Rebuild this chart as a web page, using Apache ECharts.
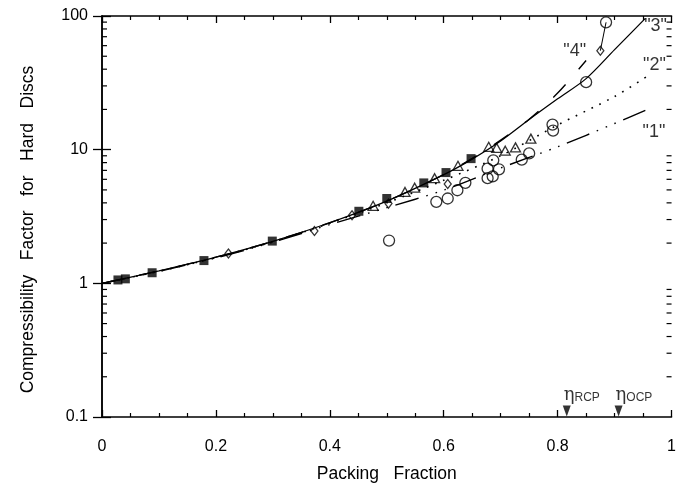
<!DOCTYPE html>
<html>
<head>
<meta charset="utf-8">
<script src="https://cdn.jsdelivr.net/npm/echarts@6/dist/echarts.min.js"></script>
<style>
html, body { margin: 0; padding: 0; background: #fff; }
#chart { width: 679px; height: 489px; }
</style>
</head>
<body>
<div id="chart"></div>
<script>
'use strict';

// simulation points (packing fraction, Z)
var squares = [[0.028, 1.06], [0.041, 1.08], [0.088, 1.20], [0.179, 1.48], [0.299, 2.07],
  [0.451, 3.46], [0.50, 4.31], [0.565, 5.64], [0.604, 6.74], [0.648, 8.57]];
var triangles = [[0.476, 3.80], [0.532, 4.83], [0.549, 5.19], [0.584, 6.12], [0.625, 7.57],
  [0.679, 10.5], [0.693, 10.3], [0.708, 9.83], [0.726, 10.4], [0.753, 12.1]];
var diamonds = [[0.222, 1.67], [0.373, 2.46], [0.439, 3.23], [0.503, 3.95], [0.607, 5.54], [0.875, 55]];
var circles = [[0.504, 2.09], [0.587, 4.07], [0.607, 4.31], [0.624, 4.97], [0.638, 5.65],
  [0.677, 6.12], [0.677, 7.21], [0.687, 8.32], [0.686, 6.31], [0.697, 7.13], [0.737, 8.42],
  [0.750, 9.38], [0.791, 15.4], [0.792, 13.9], [0.850, 32.0], [0.885, 89.7]];
var leader = [[0.885, 89.7], [0.875, 55]];

// equations of state "1".."4"
var curve1 = [[0, 1], [0.1, 1.23], [0.2, 1.55], [0.3, 2.03], [0.4, 2.75], [0.5, 3.68],
  [0.6, 4.98], [0.7, 7.3], [0.8, 10.5], [0.9, 15.7], [0.954, 19.7]];
var curve2 = [[0, 1], [0.1, 1.23], [0.2, 1.56], [0.3, 2.05], [0.4, 2.82], [0.5, 4.0],
  [0.6, 5.9], [0.7, 9.0], [0.8, 15.3], [0.9, 25], [0.96, 36]];
var curve3 = [[0, 1], [0.1, 1.24], [0.2, 1.57], [0.3, 2.06], [0.4, 2.84], [0.5, 4.12],
  [0.6, 6.5], [0.65, 8.5], [0.7, 11.6], [0.75, 16.8], [0.8, 24], [0.85, 34], [0.9, 56], [0.954, 96]];
var curve4 = [[0, 1], [0.1, 1.24], [0.2, 1.57], [0.3, 2.06], [0.4, 2.84], [0.5, 4.12],
  [0.6, 6.5], [0.65, 8.6], [0.7, 11.8], [0.75, 16.9], [0.8, 26.5], [0.85, 46.5]];

var curveLabels = [
  { name: '"1"', value: [0.969, 13.6] },
  { name: '"2"', value: [0.970, 43.1] },
  { name: '"3"', value: [0.972, 84] },
  { name: '"4"', value: [0.830, 54.8] }
];
var packings = [
  { name: 'RCP', value: [0.816, 0.1] },
  { name: 'OCP', value: [0.907, 0.1] }
];

var yMinor = [0.2, 0.3, 0.4, 0.5, 0.6, 0.7, 0.8, 0.9, 2, 3, 4, 5, 6, 7, 8, 9,
  20, 30, 40, 50, 60, 70, 80, 90];

var font = '"Liberation Sans", Arial, Helvetica, sans-serif';
var ink = '#000';

function xAxisOf(pos, show) {
  return {
    type: 'value', position: pos, min: 0, max: 1, interval: 0.2,
    axisLine: { show: true, lineStyle: { color: ink, width: 1.5 } },
    axisTick: { show: true, inside: true, length: 7, lineStyle: { color: ink, width: 1.3 } },
    minorTick: { show: true, splitNumber: 4, length: 4, lineStyle: { color: ink, width: 1.2 } },
    splitLine: { show: false },
    axisLabel: { show: show, margin: 22, color: ink, fontSize: 16, fontFamily: font },
    name: show ? 'Packing   Fraction' : '',
    nameLocation: 'middle', nameGap: 48,
    nameTextStyle: { color: ink, fontSize: 17.5, fontFamily: font }
  };
}

function yAxisOf(pos, show) {
  return {
    type: 'log', logBase: 10, position: pos, min: 0.1, max: 100,
    axisLine: { show: true, lineStyle: { color: ink, width: 1.5 } },
    axisTick: { show: true, inside: true, length: 9, lineStyle: { color: ink, width: 1.3 } },
    splitLine: { show: false },
    axisLabel: { show: show, margin: 14, color: ink, fontSize: 16, fontFamily: font },
    name: show ? 'Compressibility   Factor   for   Hard   Discs' : '',
    nameLocation: 'middle', nameGap: 65,
    // extra right padding pushes the rotated title a little lower
    nameTextStyle: { color: ink, fontSize: 17.5, fontFamily: font, padding: [0, 26, 0, 0] }
  };
}

function curve(data, type, width) {
  return {
    type: 'line', data: data, symbol: 'none', smooth: 0.3, z: 2,
    lineStyle: { color: ink, width: width, type: type, cap: 'butt' }
  };
}

function points(data, symbol, size, filled) {
  return {
    type: 'scatter', data: data, symbol: symbol, symbolSize: size, z: 3,
    itemStyle: {
      color: filled ? ink : 'rgba(0,0,0,0)',
      borderColor: ink, borderWidth: filled ? 0 : 1.3
    }
  };
}

var chart = echarts.init(document.getElementById('chart'));

chart.setOption({
  animation: false,
  backgroundColor: '#fff',
  grid: { left: 102, right: 1, top: 16, bottom: 72 },
  xAxis: [xAxisOf('bottom', true), xAxisOf('top', false)],
  yAxis: [yAxisOf('left', true), yAxisOf('right', false)],
  series: [
    {
      // minor log ticks on the left and right frame
      type: 'custom', z: 1, silent: true, clip: false,
      data: yMinor.map(function (v) { return [0, v]; }),
      renderItem: function (params, api) {
        var v = api.value(1);
        var a = api.coord([0, v]);
        var b = api.coord([1, v]);
        var st = { stroke: ink, lineWidth: 1.2 };
        return {
          type: 'group',
          children: [
            { type: 'line', shape: { x1: a[0], y1: a[1], x2: a[0] + 5, y2: a[1] }, style: st },
            { type: 'line', shape: { x1: b[0] - 5, y1: b[1], x2: b[0], y2: b[1] }, style: st }
          ]
        };
      }
    },
    curve(curve1, [24, 8, 1.6, 8, 1.6, 8, 1.6, 8], 1.4),
    curve(curve2, [1.7, 7], 1.6),
    curve(curve3, 'solid', 1.3),
    curve(curve4, [18, 20], 1.4),
    {
      type: 'line', data: leader, symbol: 'none', z: 2,
      lineStyle: { color: ink, width: 1 }
    },
    points(squares, 'rect', 9, true),
    points(triangles, 'triangle', [10, 9], false),
    points(diamonds, 'diamond', [7, 9], false),
    points(circles, 'circle', 11, false),
    {
      type: 'scatter', data: curveLabels, symbolSize: 1, z: 4,
      itemStyle: { color: 'rgba(0,0,0,0)' },
      label: {
        show: true, position: 'inside', formatter: '{b}',
        color: ink, fontSize: 18, fontFamily: font
      }
    },
    {
      type: 'scatter', data: packings, z: 4,
      symbol: 'path://M0,0 L8,0 L4,11 Z', symbolSize: [8, 11], symbolOffset: [0, -6],
      itemStyle: { color: ink },
      label: {
        show: true, position: 'top', distance: 1, align: 'left', offset: [-3, 0],
        formatter: '{e|η}{s|{b}}',
        rich: {
          e: { fontSize: 18, color: ink, fontFamily: '"DejaVu Serif", serif' },
          s: { fontSize: 12, color: ink, fontFamily: font, padding: [4, 0, 0, 0] }
        }
      }
    }
  ]
});
</script>
</body>
</html>
